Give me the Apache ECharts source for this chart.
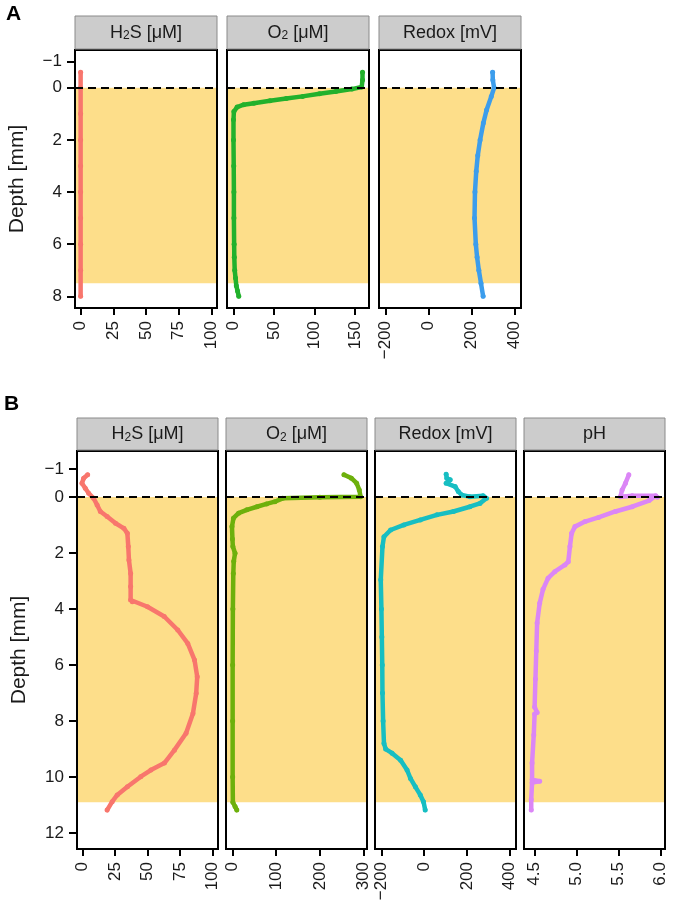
<!DOCTYPE html>
<html>
<head>
<meta charset="utf-8">
<script src="https://cdn.jsdelivr.net/npm/echarts@6/dist/echarts.min.js"></script>
<style>
html,body{margin:0;padding:0;background:#fff;}
#chart{width:678px;height:908px;}
</style>
</head>
<body>
<div id="chart"></div>
<script>
// ---------- DATA ----------
// Panel A
const a_h2s_depth = [-0.6, 0, 1, 2, 3, 4, 5, 6, 7, 8];
const a_h2s_value = [0, 0, 0, 0, 0, 0, 0, 0, 0, 0];

const a_o2_depth = [-0.6, -0.3, -0.03, 0.05, 0.14, 0.23, 0.33, 0.41, 0.5, 0.59, 0.65, 0.74, 0.91, 1.23, 2, 3, 4, 5, 6, 6.5, 7, 7.3, 7.6, 7.8, 8.0];
const a_o2_value = [159, 159, 158, 146, 126, 106, 85, 65, 45, 25, 12.5, 4.5, 0.5, 0, 0, 0.3, 0.5, 0.5, 0.8, 1, 1.5, 2.5, 3.5, 5, 6.5];

const a_redox_depth = [-0.6, -0.3, 0, 0.33, 0.85, 1.35, 2, 2.6, 3.2, 4, 5, 6, 6.5, 7, 7.5, 8];
const a_redox_value = [298, 299, 305, 292, 270, 255, 240, 229, 222, 216, 214, 220, 226, 234, 244, 254];

// Panel B
const b_h2s_depth = [-0.79, -0.67, -0.49, -0.31, -0.13, 0.05, 0.29, 0.52, 0.7, 0.94, 1.12, 1.3, 1.77, 2.25, 2.73, 3.2, 3.68, 3.74, 3.92, 4.27, 4.75, 5.23, 5.82, 6.42, 7.01, 7.73, 8.44, 9.04, 9.5, 9.75, 9.99, 10.35, 10.64, 10.88, 11.18];
const b_h2s_value = [3.9, 0.8, -0.5, 2.1, 4.7, 8.5, 11.2, 13.7, 18.9, 25.4, 31.8, 34.5, 35.2, 35.7, 37, 37, 37, 38.3, 50, 62.9, 73.3, 81, 86.2, 88.3, 87.5, 85, 79.7, 70.7, 63, 52.6, 44.8, 34.5, 26.7, 22.8, 18.9];

const b_o2_depth = [-0.79, -0.67, -0.49, -0.25, -0.01, 0.01, 0.05, 0.17, 0.25, 0.35, 0.46, 0.58, 0.76, 1.06, 1.5, 1.77, 2.01, 2.3, 2.73, 4, 6, 8, 10, 10.9, 11.05, 11.18];
const b_o2_value = [255, 272, 284, 290, 293, 200, 115, 97, 78, 56, 33, 14, 2.3, -1, 0, 1, 6, 3, 2, 1, 0.5, 0.5, 0.5, 1, 6, 10];

const b_redox_depth = [-0.81, -0.67, -0.61, -0.49, -0.37, -0.19, -0.07, -0.01, -0.04, 0.05, 0.23, 0.35, 0.52, 0.64, 0.82, 1.0, 1.18, 1.42, 1.77, 2.96, 4, 5, 6, 7, 8, 8.8, 9.0, 9.15, 9.4, 9.75, 10.05, 10.35, 10.64, 10.88, 11.18];
const b_redox_value = [103, 106, 122, 103, 145, 160, 176, 214, 276, 292, 261, 214, 137, 60, -18, -95, -157, -188, -195, -203, -200, -198, -196, -195, -192, -188, -180, -150, -110, -80, -64, -41, -18, -3, 5];

const b_ph_depth = [-0.79, -0.49, -0.25, -0.01, -0.04, -0.04, 0.01, 0.13, 0.35, 0.52, 0.73, 0.88, 1.06, 1.3, 1.77, 2.31, 2.43, 2.67, 2.9, 3.3, 3.8, 4.5, 5.5, 6.5, 7.5, 7.7, 7.75, 8.5, 9.5, 10.1, 10.15, 10.2, 10.8, 11.18];
const b_ph_value = [5.62, 5.58, 5.54, 5.52, 5.66, 5.94, 5.96, 5.86, 5.66, 5.46, 5.26, 5.1, 4.98, 4.94, 4.92, 4.9, 4.86, 4.74, 4.66, 4.6, 4.56, 4.53, 4.52, 4.51, 4.5, 4.53, 4.5, 4.49, 4.47, 4.47, 4.56, 4.47, 4.46, 4.46];

// Tick labels
const a_depth_ticks = [-1, 0, 2, 4, 6, 8];
const b_depth_ticks = [-1, 0, 2, 4, 6, 8, 10, 12];
const h2s_ticks = [0, 25, 50, 75, 100];
const a_o2_ticks = [0, 50, 100, 150];
const b_o2_ticks = [0, 100, 200, 300];
const redox_ticks = [-200, 0, 200, 400];
const ph_ticks = [4.5, 5.0, 5.5, 6.0];

// Sediment band (depth range) and panel titles
const a_sediment = [0, 7.5];
const b_sediment = [0, 10.9];
const a_titles = ['H{s|2}S [μM]', 'O{s|2} [μM]', 'Redox [mV]'];
const b_titles = ['H{s|2}S [μM]', 'O{s|2} [μM]', 'Redox [mV]', 'pH'];

// ---------- LAYOUT / STYLE ----------
const FONT = '"Liberation Sans", Arial, Helvetica, sans-serif';
const BAND = '#FDDE8A';
const rowA = {top: 50, bottom: 308, head: 16, lefts: [75, 227, 379], width: 142, ymin: -1.45, ymax: 8.45};
const rowB = {top: 451, bottom: 849, head: 418, lefts: [77, 226, 375, 524], width: 141, ymin: -1.64, ymax: 12.57};

const panels = [
  {row: rowA, col: 0, depth: a_h2s_depth, val: a_h2s_value, color: '#F8766D', xmin: -4.3, xmax: 104.3, xt: h2s_ticks, yt: a_depth_ticks, band: a_sediment, title: a_titles[0]},
  {row: rowA, col: 1, depth: a_o2_depth, val: a_o2_value, color: '#22B12C', xmin: -8, xmax: 167, xt: a_o2_ticks, yt: a_depth_ticks, band: a_sediment, title: a_titles[1]},
  {row: rowA, col: 2, depth: a_redox_depth, val: a_redox_value, color: '#3C9DEC', xmin: -230, xmax: 430, xt: redox_ticks, yt: a_depth_ticks, band: a_sediment, title: a_titles[2]},
  {row: rowB, col: 0, depth: b_h2s_depth, val: b_h2s_value, color: '#F8766D', xmin: -4.3, xmax: 104.3, xt: h2s_ticks, yt: b_depth_ticks, band: b_sediment, title: b_titles[0]},
  {row: rowB, col: 1, depth: b_o2_depth, val: b_o2_value, color: '#6DB00C', xmin: -14.7, xmax: 307.7, xt: b_o2_ticks, yt: b_depth_ticks, band: b_sediment, title: b_titles[1]},
  {row: rowB, col: 2, depth: b_redox_depth, val: b_redox_value, color: '#17BEC2', xmin: -230, xmax: 430, xt: redox_ticks, yt: b_depth_ticks, band: b_sediment, title: b_titles[2]},
  {row: rowB, col: 3, depth: b_ph_depth, val: b_ph_value, color: '#DB86F6', xmin: 4.374, xmax: 6.05, xt: ph_ticks, yt: b_depth_ticks, band: b_sediment, title: b_titles[3], dec: 1},
];

function fmtNum(v, dec) {
  let s = dec ? Number(v).toFixed(dec) : String(v);
  return s.replace('-', '\u2212');
}

const grids = [], xAxes = [], yAxes = [], series = [], graphics = [];

panels.forEach((p, i) => {
  const r = p.row;
  const left = r.lefts[p.col];
  grids.push({
    left: left, top: r.top, width: r.width, height: r.bottom - r.top,
    show: true, borderColor: '#000', borderWidth: 2, backgroundColor: 'transparent',
    containLabel: false, outerBoundsMode: 'none', z: 10
  });
  xAxes.push({
    gridIndex: i, type: 'value', min: p.xmin, max: p.xmax, z: 10, position: 'bottom',
    splitLine: {show: false},
    axisLine: {show: false, onZero: false},
    axisTick: {show: true, length: 7, inside: false, lineStyle: {color: '#000', width: 2}, customValues: p.xt},
    axisLabel: {show: true, rotate: 90, margin: 13, fontSize: 17, fontFamily: FONT, color: '#1a1a1a',
      customValues: p.xt, formatter: v => fmtNum(v, p.dec), hideOverlap: false}
  });
  const firstCol = p.col === 0;
  yAxes.push({
    gridIndex: i, type: 'value', min: r.ymin, max: r.ymax, inverse: true, z: 10, position: 'left',
    splitLine: {show: false},
    axisLine: {show: false, onZero: false},
    axisTick: {show: firstCol, length: 8, lineStyle: {color: '#000', width: 2}, customValues: p.yt},
    axisLabel: {show: firstCol, margin: 13, fontSize: 17, fontFamily: FONT, color: '#1a1a1a',
      customValues: p.yt, formatter: v => fmtNum(v)},
    name: firstCol ? 'Depth [mm]' : '', nameLocation: 'middle', nameGap: 47, nameRotate: 90,
    nameTextStyle: {fontSize: 21, fontFamily: FONT, color: '#1a1a1a'}
  });
  // sediment band
  series.push({
    type: 'line', xAxisIndex: i, yAxisIndex: i, data: [[p.xmin, p.band[0]]], z: 1,
    showSymbol: false, lineStyle: {opacity: 0}, silent: true,
    markArea: {silent: true, itemStyle: {color: BAND, opacity: 1},
      data: [[{yAxis: p.band[0]}, {yAxis: p.band[1]}]]}
  });
  // dashed surface line at depth 0
  series.push({
    type: 'line', xAxisIndex: i, yAxisIndex: i, data: [[p.xmin, 0]], z: 2,
    showSymbol: false, lineStyle: {opacity: 0}, silent: true,
    markLine: {silent: true, symbol: ['none', 'none'], label: {show: false},
      lineStyle: {color: '#000', width: 2, type: [8, 5]},
      data: [{yAxis: 0}]}
  });
  // profile
  series.push({
    type: 'line', xAxisIndex: i, yAxisIndex: i, z: 3,
    data: p.depth.map((d, k) => [p.val[k], d]),
    showSymbol: true, symbol: 'circle', symbolSize: 5,
    itemStyle: {color: p.color}, lineStyle: {color: p.color, width: 4.5, join: 'round', cap: 'round'},
    clip: true, animation: false
  });
  // header strip
  graphics.push({
    type: 'rect', silent: true, z: 20,
    shape: {x: left, y: r.head, width: r.width, height: r.top - r.head - 1},
    style: {fill: '#CCCCCC', stroke: '#8a8a8a', lineWidth: 1}
  });
  graphics.push({
    type: 'text', silent: true, z: 21,
    x: left + r.width / 2, y: r.head + (r.top - r.head) / 2,
    style: {
      text: p.title, fill: '#1a1a1a', font: '18px ' + FONT,
      align: 'center', verticalAlign: 'middle', textAlign: 'center', textVerticalAlign: 'middle',
      rich: {s: {fontSize: 12, fontFamily: FONT, fill: '#1a1a1a', lineHeight: 4, verticalAlign: 'bottom'}}
    }
  });
});

graphics.push({type: 'text', x: 6, y: 4, style: {text: 'A', fill: '#000', font: 'bold 21px ' + FONT}});
graphics.push({type: 'text', x: 4, y: 394, style: {text: 'B', fill: '#000', font: 'bold 21px ' + FONT}});

const chart = echarts.init(document.getElementById('chart'), null, {renderer: 'canvas'});
chart.setOption({
  animation: false,
  backgroundColor: '#fff',
  textStyle: {fontFamily: FONT},
  grid: grids, xAxis: xAxes, yAxis: yAxes, series: series,
  graphic: graphics
});
</script>
</body>
</html>
